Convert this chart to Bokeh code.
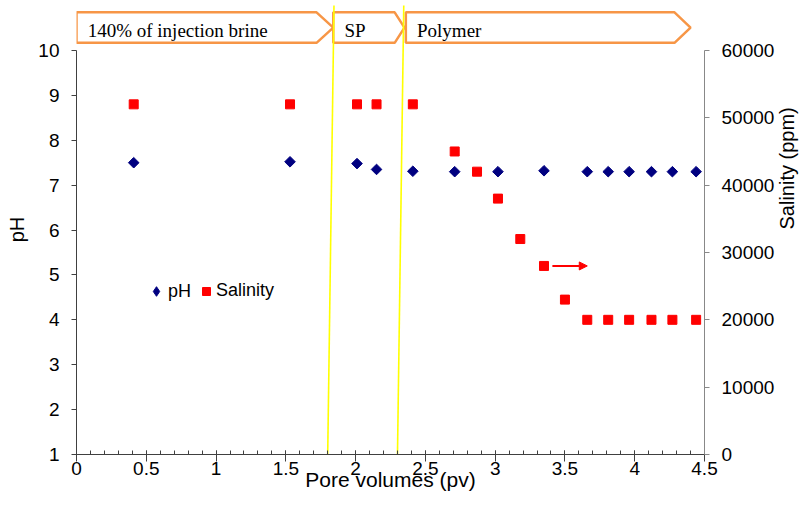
import math

from bokeh.core.properties import value
from bokeh.embed import file_html
from bokeh.models import (Arrow, Legend, LegendItem, LinearAxis, NormalHead,
                          NumeralTickFormatter, Range1d, SingleIntervalTicker)
from bokeh.plotting import figure
from bokeh.resources import INLINE

# pH of the effluent versus injected pore volumes
pv_ph = [0.41, 1.53, 2.01, 2.15, 2.41, 2.71, 3.02, 3.35, 3.66, 3.81, 3.96, 4.12, 4.27, 4.44]
ph = [7.50, 7.52, 7.48, 7.35, 7.31, 7.30, 7.30, 7.32, 7.30, 7.30, 7.30, 7.30, 7.30, 7.30]

# effluent salinity (ppm) versus injected pore volumes
pv_sal = [0.41, 1.53, 2.01, 2.15, 2.41, 2.71, 2.87, 3.02, 3.18, 3.35, 3.50,
          3.66, 3.81, 3.96, 4.12, 4.27, 4.44]
salinity = [52000, 52000, 52000, 52000, 52000, 45000, 42000, 38000, 32000, 28000, 23000,
            20000, 20000, 20000, 20000, 20000, 20000]

# injection stages shown as arrows along the top
stage_labels = ["140% of injection brine", "SP", "Polymer"]
stage_start = [0.0, 1.84, 2.36]
stage_body_end = [1.72, 2.28, 4.285]
stage_tip = [1.84, 2.35, 4.40]

# slug boundaries (pv)
boundaries = [1.80, 2.30]

# salinity reading pointed at by the red arrow
arrow_pv = [3.41, 3.66]
arrow_sal = 28000

FONT = "Liberation Sans"
SERIF = "Liberation Serif"

PH_TOP = 11.024
SAL_TOP = (PH_TOP - 1) * 60000 / 9

p = figure(width=812, height=507, output_backend="svg", toolbar_location=None,
           x_range=Range1d(0, 4.5), y_range=Range1d(1, PH_TOP),
           min_border_left=76, min_border_right=107, min_border_top=4,
           min_border_bottom=53)
p.outline_line_color = None
p.xgrid.visible = False
p.ygrid.visible = False
p.background_fill_color = "white"
p.border_fill_color = "white"
p.extra_y_ranges = {"sal": Range1d(0, SAL_TOP)}

# bottom axis
xa = p.xaxis[0]
xa.bounds = (0, 4.5)
xa.ticker = SingleIntervalTicker(interval=0.5, num_minor_ticks=5)
xa.formatter = NumeralTickFormatter(format="0.[0]")
xa.major_tick_in = 4
xa.major_tick_out = 7
xa.minor_tick_in = 4
xa.minor_tick_out = 0
xa.axis_line_color = "#404040"
xa.major_tick_line_color = "#404040"
xa.minor_tick_line_color = "#404040"
xa.major_label_text_font = FONT
xa.major_label_text_font_size = "19px"
xa.major_label_text_color = "black"
xa.major_label_standoff = 0
xa.axis_label = "Pore volumes (pv)"
xa.axis_label_text_font = FONT
xa.axis_label_text_font_size = "21px"
xa.axis_label_text_font_style = "normal"
xa.axis_label_text_color = "black"
xa.axis_label_standoff = -10

# left pH axis
ya = p.yaxis[0]
ya.bounds = (1, 10)
ya.ticker = SingleIntervalTicker(interval=1, num_minor_ticks=0)
ya.major_tick_in = 0
ya.major_tick_out = 5
ya.minor_tick_line_color = None
ya.axis_line_color = "#404040"
ya.major_tick_line_color = "#404040"
ya.major_label_text_font = FONT
ya.major_label_text_font_size = "19px"
ya.major_label_text_color = "black"
ya.major_label_standoff = 12
ya.axis_label = "pH"
ya.axis_label_text_font = FONT
ya.axis_label_text_font_size = "20px"
ya.axis_label_text_font_style = "normal"
ya.axis_label_text_color = "black"
ya.axis_label_standoff = 7

# right salinity axis
ra = LinearAxis(y_range_name="sal", bounds=(0, 60000),
                ticker=SingleIntervalTicker(interval=10000, num_minor_ticks=0))
ra.major_tick_in = 0
ra.major_tick_out = 5
ra.minor_tick_line_color = None
ra.axis_line_color = "#888888"
ra.major_tick_line_color = "#888888"
ra.major_label_text_font = FONT
ra.major_label_text_font_size = "19px"
ra.major_label_text_color = "black"
ra.major_label_standoff = 12
ra.axis_label = "Salinity (ppm)"
ra.axis_label_text_font = FONT
ra.axis_label_text_font_size = "20px"
ra.axis_label_text_font_style = "normal"
ra.axis_label_text_color = "black"
ra.axis_label_standoff = 10
ra.axis_label_orientation = math.pi / 2
p.add_layout(ra, "right")

# stage arrows
ytop, ybot, ymid = 10.85, 10.17, 10.51
xs, ys = [], []
for s, b, t in zip(stage_start, stage_body_end, stage_tip):
    xs.append([s, b, t, b, s])
    ys.append([ytop, ytop, ymid, ybot, ybot])
p.patches(xs, ys, fill_color="white", line_color="#F79646", line_width=2.5)

# slug boundary lines
for b in boundaries:
    p.line([b, b + 0.045], [1, 11.0], line_color="#FFFF00", line_width=1.6)

p.text(x=[s + 0.08 for s in stage_start], y=[10.45] * len(stage_start), text=stage_labels,
       text_font=value(SERIF), text_font_size="19px", text_color="black",
       text_baseline="alphabetic", text_align="left")

# data series
r_sal = p.scatter(pv_sal, salinity, y_range_name="sal", marker="square", size=9,
                  fill_color="#FF0000", line_color="#FF0000")
r_ph = p.scatter(pv_ph, ph, marker="square", angle=math.pi / 4, size=7.5,
                 fill_color="#000080", line_color="#000080")

# legend swatch for pH: an unrotated diamond (legends drop the glyph angle);
# the renderer itself stays hidden so only the rotated squares show in the plot
r_ph_key = p.scatter(pv_ph, ph, marker="diamond", fill_color="#000080",
                     line_color="#000080", visible=False)

p.add_layout(Arrow(x_start=arrow_pv[0], x_end=arrow_pv[1], y_start=arrow_sal, y_end=arrow_sal,
                   y_range_name="sal", line_color="#FF0000", line_width=2,
                   end=NormalHead(size=8, fill_color="#FF0000", line_color="#FF0000")))

common = dict(orientation="horizontal", padding=0, margin=0, border_line_color=None,
              background_fill_alpha=0, label_text_font=FONT, label_text_font_size="18px",
              label_text_color="black")
leg_ph = Legend(items=[LegendItem(label="pH", renderers=[r_ph_key])], location=(68, 151),
                glyph_width=24, glyph_height=24, label_standoff=0, **common)
leg_sal = Legend(items=[LegendItem(label="Salinity", renderers=[r_sal])], location=(120, 153),
                 glyph_width=20, glyph_height=20, label_standoff=0, **common)
p.add_layout(leg_ph, "center")
p.add_layout(leg_sal, "center")

open("out.html", "w").write(file_html(p, INLINE))
